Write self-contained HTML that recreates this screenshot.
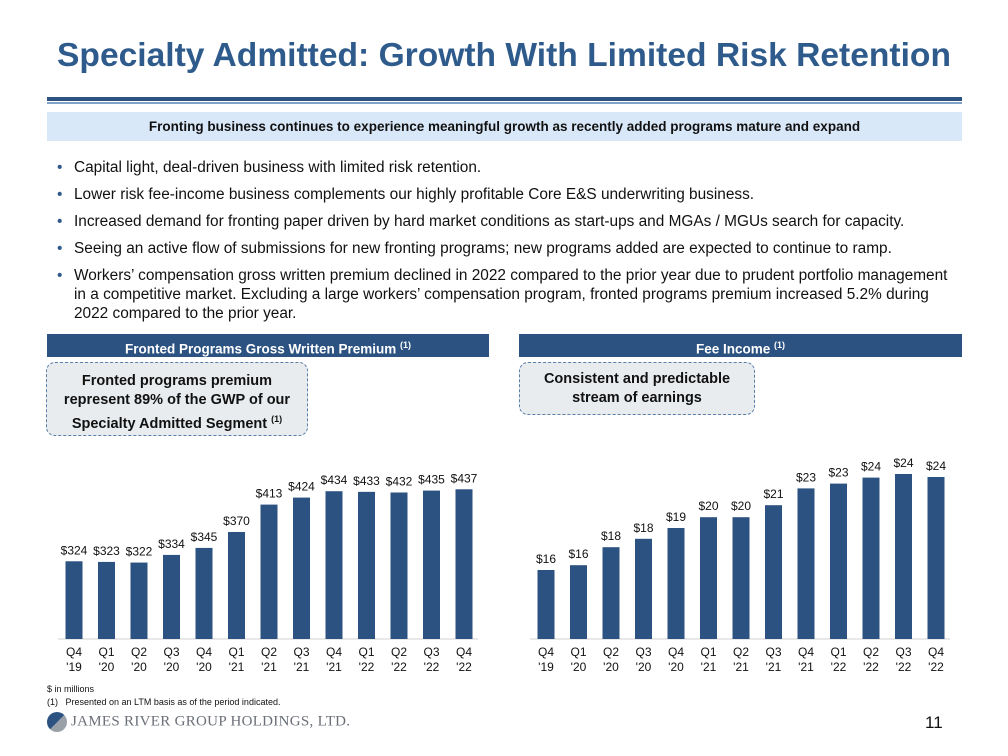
<!DOCTYPE html>
<html><head><meta charset="utf-8"><style>
body{margin:0;width:1008px;height:756px;background:#fff;font-family:"Liberation Sans",Arial,sans-serif;position:relative;overflow:hidden}
.a{position:absolute}
#title{left:0;width:1008px;top:37px;text-align:center;font-size:33.6px;font-weight:bold;color:#2e5b8c}
.hdr{background:#2c5282;color:#fff;font-weight:bold;font-size:13.5px;text-align:center;height:23px;line-height:23px;top:334px}
.call{background:#e9ecef;border:1.5px dashed #5a7fa8;border-radius:9px;text-align:center;font-weight:bold;font-size:14.5px;color:#111;line-height:19px;box-sizing:border-box}
ul{margin:0;padding:0;list-style:none}
li{position:relative;padding-left:17px;font-size:15.4px;color:#111;line-height:19px;margin-bottom:8px;white-space:nowrap}
li:before{content:"•";position:absolute;left:0;color:#2e5b8c}
</style></head><body>
<div id="title" class="a">Specialty Admitted: Growth With Limited Risk Retention</div>
<div class="a" style="left:47px;top:97px;width:915px;height:4px;background:#2c5282"></div>
<div class="a" style="left:47px;top:102px;width:915px;height:1.5px;background:#7fa3c7"></div>
<div class="a" style="left:47px;top:112px;width:915px;height:29px;background:#d9e8f8;text-align:center;line-height:29px;font-weight:bold;font-size:13.5px;color:#111">Fronting business continues to experience meaningful growth as recently added programs mature and expand</div>
<ul class="a" style="left:57px;top:158px;width:920px">
<li>Capital light, deal-driven business with limited risk retention.</li>
<li>Lower risk fee-income business complements our highly profitable Core E&amp;S underwriting business.</li>
<li>Increased demand for fronting paper driven by hard market conditions as start-ups and MGAs / MGUs search for capacity.</li>
<li>Seeing an active flow of submissions for new fronting programs; new programs added are expected to continue to ramp.</li>
<li>Workers’ compensation gross written premium declined in 2022 compared to the prior year due to prudent portfolio management<br>in a competitive market. Excluding a large workers’ compensation program, fronted programs premium increased 5.2% during<br>2022 compared to the prior year.</li>
</ul>
<div class="a hdr" style="left:47px;width:442px">Fronted Programs Gross Written Premium <sup style="font-size:9px">(1)</sup></div>
<div class="a hdr" style="left:519px;width:443px">Fee Income <sup style="font-size:9px">(1)</sup></div>
<div class="a call" style="left:46px;top:362px;width:262px;height:74px;padding-top:9px">Fronted programs premium represent 89% of the GWP of our Specialty Admitted Segment <sup style="font-size:9px">(1)</sup></div>
<div class="a call" style="left:519px;top:362px;width:236px;height:53px;padding-top:7px">Consistent and predictable stream of earnings</div>
<svg class="a" style="left:0;top:0" width="1008" height="756"><g id="c1"></g><g id="c2"></g></svg>
<div class="a" style="left:47px;top:684px;font-size:9px;color:#111">$ in millions</div>
<div class="a" style="left:47px;top:697px;font-size:9px;color:#111">(1)&nbsp;&nbsp; Presented on an LTM basis as of the period indicated.</div>
<div class="a" style="left:47px;top:712px;font-family:'Liberation Serif',serif;font-size:15px;color:#6a6f78;letter-spacing:0.3px"><span style="display:inline-block;width:20px;height:20px;border-radius:50%;background:linear-gradient(135deg,#2c5282 50%,#9aa0a8 50%);vertical-align:middle;margin-right:4px"></span>JAMES RIVER GROUP HOLDINGS, LTD.</div>
<div class="a" style="left:925px;top:713px;font-size:17px;color:#111">11</div>
<script>
const cats=["Q4|'19","Q1|'20","Q2|'20","Q3|'20","Q4|'20","Q1|'21","Q2|'21","Q3|'21","Q4|'21","Q1|'22","Q2|'22","Q3|'22","Q4|'22"];
const gwpValues=[324,323,322,334,345,370,413,424,434,433,432,435,437];
const gwpLabels=["$324","$323","$322","$334","$345","$370","$413","$424","$434","$433","$432","$435","$437"];
const feeValues=[16.0,16.4,17.9,18.6,19.5,20.4,20.4,21.4,22.8,23.2,23.7,24.0,23.75];
const feeLabels=["$16","$16","$18","$18","$19","$20","$20","$21","$23","$23","$24","$24","$24"];
const NS="http://www.w3.org/2000/svg";
function mk(p,t,a){const e=document.createElementNS(NS,t);for(const k in a)e.setAttribute(k,a[k]);p.appendChild(e);return e;}
function draw(id,vals,labels,x0,axL,axR,vmin,ppu){
 const g=document.getElementById(id),base=639,step=32.5;
 const xs=i=>x0+i*step, ys=v=>base-(v-vmin)*ppu;
 const ax=mk(g,"line",{x1:axL,x2:axR,y1:base,y2:base,stroke:"#d0d0d0","stroke-width":1});
 
 
 vals.forEach((v,i)=>{
  const r=mk(g,"rect",{x:xs(i)-8.5,y:ys(v),width:17,height:base-ys(v),fill:"#2c5282"});
  
  
  const t=mk(g,"text",{x:xs(i),y:ys(v)-7,"text-anchor":"middle","font-size":"12","font-family":"Liberation Sans, sans-serif",fill:"#111"});
  t.textContent=labels[i];
  
  
  const [a,b]=cats[i].split("|");
  [a,b].forEach((s,j)=>{const c=mk(g,"text",{x:xs(i),y:656+j*15,"text-anchor":"middle","font-size":"12","font-family":"Liberation Sans, sans-serif",fill:"#111"});c.textContent=s;
   
   });
 });
}
draw("c1",gwpValues,gwpLabels,74,58,478,202,0.637);
draw("c2",feeValues,feeLabels,546,530,950,10.25,12);
</script>
</body></html>
